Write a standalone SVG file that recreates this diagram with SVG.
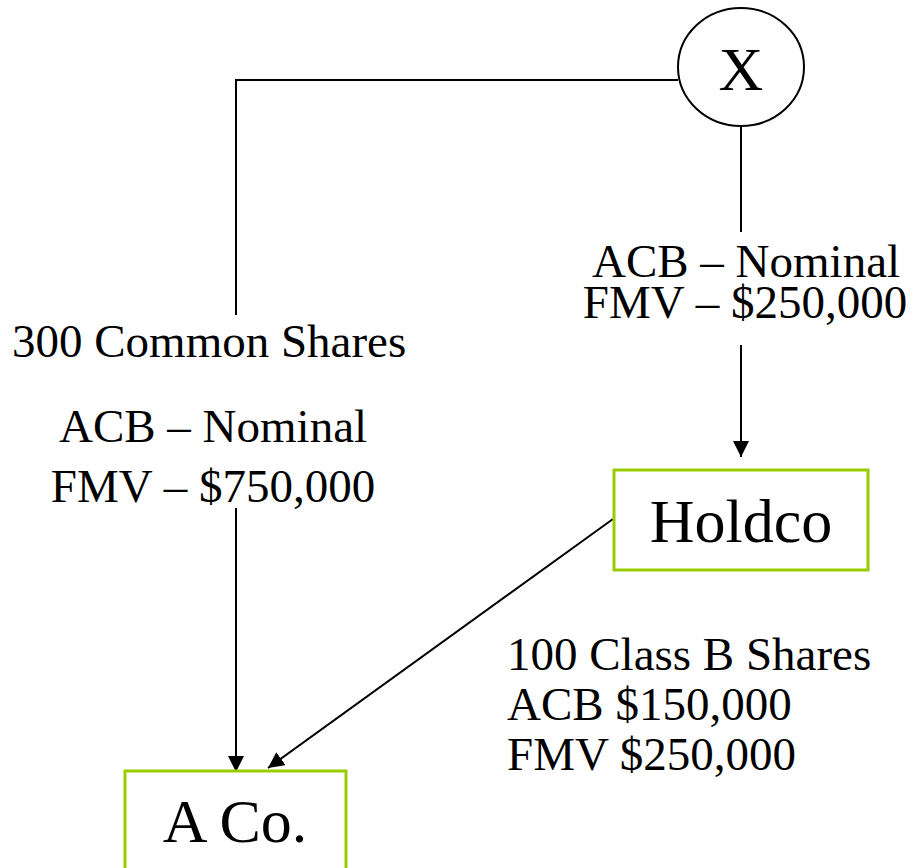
<svg xmlns="http://www.w3.org/2000/svg" width="918" height="868" viewBox="0 0 918 868">
<style>
  text { font-family: "Liberation Serif", "Times New Roman", serif; fill: #000; }
  .lbl { font-size: 47px; }
  .big { font-size: 62px; }
  .box { fill: #fff; stroke: #99CC00; stroke-width: 3; }
  .conn { fill: none; stroke: #000; stroke-width: 2; }
</style>
<defs>
  <marker id="arr" viewBox="0 0 16 16" refX="16" refY="8" markerWidth="16" markerHeight="16" markerUnits="userSpaceOnUse" orient="auto">
    <path d="M0,0 L16,8 L0,16 Z" fill="#000"/>
  </marker>
</defs>
<rect width="918" height="868" fill="#fff"/>
<g id="connectors">
  <polyline class="conn" points="678,80 236,80 236,315"/>
  <line class="conn" x1="236" y1="508" x2="236" y2="772" marker-end="url(#arr)"/>
  <line class="conn" x1="741" y1="126" x2="741" y2="232"/>
  <line class="conn" x1="741" y1="345" x2="741" y2="457" marker-end="url(#arr)"/>
  <line class="conn" x1="613" y1="519" x2="268" y2="768" marker-end="url(#arr)"/>
</g>
<g id="node-x">
  <ellipse cx="741" cy="67" rx="63" ry="59" fill="#fff" stroke="#000" stroke-width="2"/>
  <text class="big" x="741" y="90" text-anchor="middle">X</text>
</g>
<g id="node-holdco">
  <rect class="box" x="614" y="470" width="254" height="100"/>
  <text class="big" x="741" y="542" text-anchor="middle">Holdco</text>
</g>
<g id="node-aco">
  <rect class="box" x="125" y="771" width="221" height="110"/>
  <text class="big" x="235" y="842" text-anchor="middle">A Co.</text>
</g>
<g id="labels">
  <text class="lbl" x="12" y="357">300 Common Shares</text>
  <text class="lbl" x="213" y="442" text-anchor="middle">ACB – Nominal</text>
  <text class="lbl" x="213" y="502" text-anchor="middle">FMV – $750,000</text>
  <text class="lbl" x="746" y="277" text-anchor="middle">ACB – Nominal</text>
  <text class="lbl" x="745" y="318" text-anchor="middle">FMV – $250,000</text>
  <text class="lbl" x="507" y="670">100 Class B Shares</text>
  <text class="lbl" x="507" y="720">ACB $150,000</text>
  <text class="lbl" x="507" y="770">FMV $250,000</text>
</g>
</svg>
